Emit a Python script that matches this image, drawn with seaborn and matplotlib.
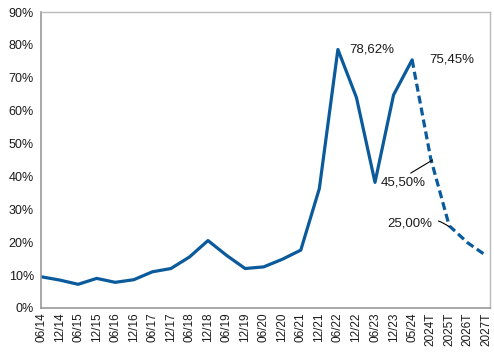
import numpy as np
import pandas as pd
import matplotlib
matplotlib.use("Agg")
import matplotlib.pyplot as plt
import seaborn as sns
from matplotlib.ticker import PercentFormatter

# Data
periods = ['06/14', '12/14', '06/15', '12/15', '06/16', '12/16', '06/17', '12/17',
           '06/18', '12/18', '06/19', '12/19', '06/20', '12/20', '06/21', '12/21',
           '06/22', '12/22', '06/23', '12/23', '05/24', '2024T', '2025T', '2026T', '2027T']
actual = [9.5, 8.5, 7.2, 9.0, 7.8, 8.6, 11.0, 12.0, 15.5, 20.5, 16.0, 12.0, 12.5,
          14.8, 17.6, 36.3, 78.62, 64.0, 38.2, 64.8, 75.45]
forecast = [75.45, 45.5, 25.0, 19.8, 15.9]

n_actual = len(actual)
df_actual = pd.DataFrame({'pos': np.arange(n_actual), 'value': actual})
df_fc = pd.DataFrame({'pos': np.arange(n_actual - 1, n_actual - 1 + len(forecast)),
                      'value': forecast})

sns.set_style("white")
plt.rcParams['font.family'] = ['Liberation Sans', 'DejaVu Sans']
plt.rcParams['text.color'] = '#1a1a1a'
plt.rcParams['xtick.color'] = '#1a1a1a'
plt.rcParams['ytick.color'] = '#1a1a1a'

color = '#0a5a9c'
fig, ax = plt.subplots(figsize=(4.94, 3.54), dpi=100)
fig.subplots_adjust(left=0.083, right=0.992, top=0.966, bottom=0.13)

sns.lineplot(data=df_actual, x='pos', y='value', ax=ax, color=color, linewidth=2.3)
sns.lineplot(data=df_fc, x='pos', y='value', ax=ax, color=color, linewidth=2.3,
             linestyle=(0, (2.5, 1.3)))

ax.set_xlim(0, len(periods) - 1 + 0.2)
ax.set_ylim(0, 90)
ax.set_yticks(np.arange(0, 91, 10))
ax.yaxis.set_major_formatter(PercentFormatter(decimals=0))
ax.set_xticks(np.arange(len(periods)))
ax.set_xticklabels(periods, rotation=90)
ax.tick_params(axis='y', labelsize=9, length=3, width=0.8, color='#999999', pad=2)
ax.tick_params(axis='x', labelsize=8.5, length=0, pad=3)
ax.set_xlabel('')
ax.set_ylabel('')

for side in ['left', 'bottom']:
    ax.spines[side].set_color('#999999')
    ax.spines[side].set_linewidth(1.2)
for side in ['top', 'right']:
    ax.spines[side].set_color('#bbbbbb')
    ax.spines[side].set_linewidth(1.0)

# Value labels
ax.text(16.6, 78.62, '78,62%', fontsize=9.5, va='center', ha='left')
ax.text(20.9, 75.45, '75,45%', fontsize=9.5, va='center', ha='left')
ax.annotate('45,50%', xy=(21.1, 45.0), xytext=(18.3, 38.2), fontsize=9.5,
            va='center', ha='left',
            arrowprops=dict(arrowstyle='-', color='black', lw=0.8,
                            shrinkA=0, shrinkB=0, relpos=(0.55, 1.0)))
ax.annotate('25,00%', xy=(22.0, 24.7), xytext=(21.1, 25.7), fontsize=9.5,
            va='center', ha='right',
            arrowprops=dict(arrowstyle='-', color='black', lw=0.8,
                            shrinkA=2, shrinkB=0,
                            connectionstyle='arc3,rad=-0.3'))

plt.savefig("out.png", dpi=100)
